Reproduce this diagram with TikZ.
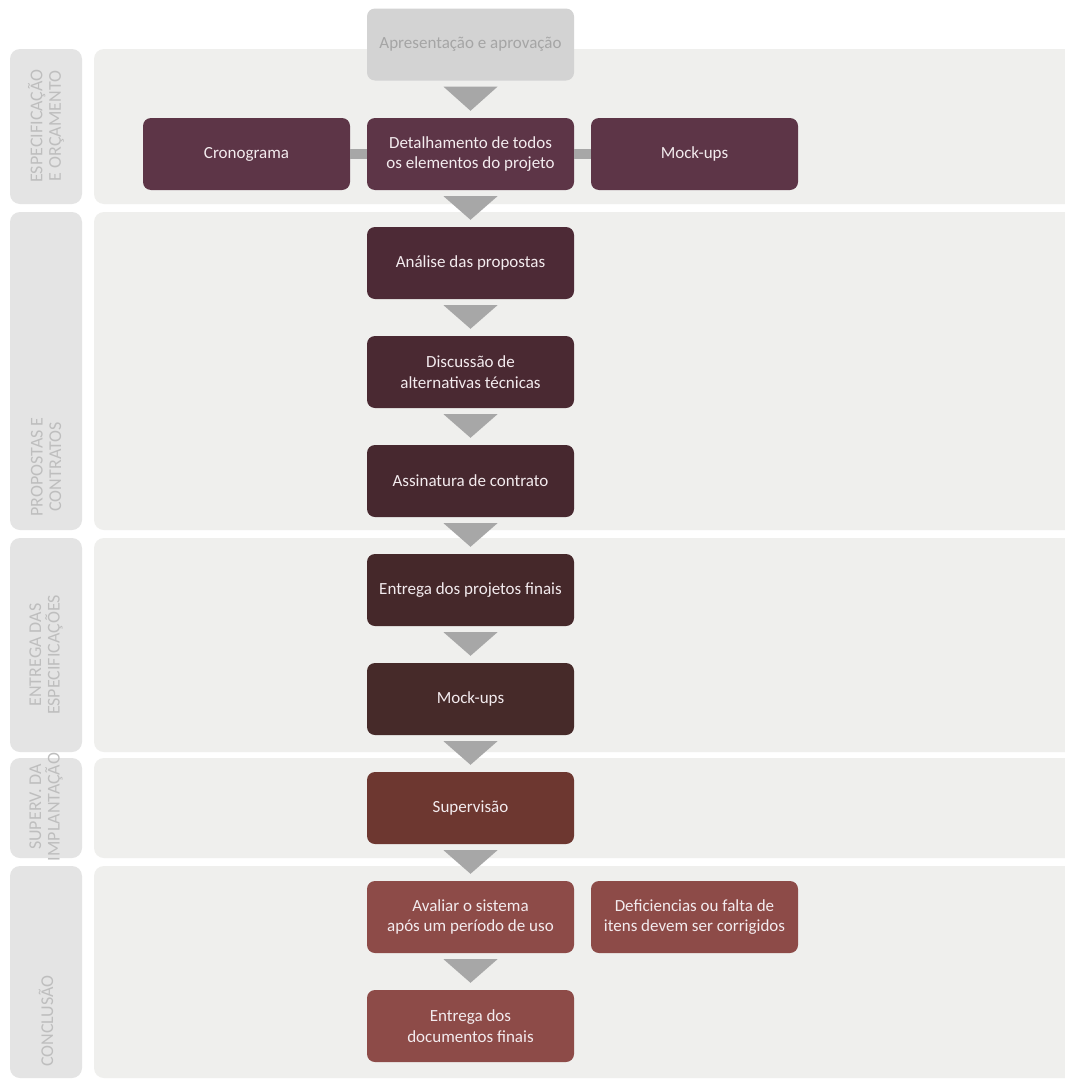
\documentclass[tikz,border=0pt]{standalone}
\usepackage{fontspec}
\setmainfont{Carlito}
\usepackage{tikz}
\usetikzlibrary{calc}
\definecolor{bandGrey}{HTML}{EFEFED}
\definecolor{tabGrey}{HTML}{E4E4E4}
\definecolor{tabText}{HTML}{BEBEBE}
\definecolor{arrowGrey}{HTML}{A7A7A7}
\definecolor{topGrey}{HTML}{D3D3D3}
\definecolor{topText}{HTML}{A5A5A5}
\definecolor{boxText}{HTML}{F3EBEE}
\definecolor{plumSpec}{HTML}{5D3547}
\definecolor{plumProp}{HTML}{4D2A36}
\definecolor{plumProp2}{HTML}{4A2932}
\definecolor{plumProp3}{HTML}{47282F}
\definecolor{brownEntr}{HTML}{45282A}
\definecolor{brownEntr2}{HTML}{462A29}
\definecolor{rustSup}{HTML}{6D3730}
\definecolor{roseConc}{HTML}{8D4B48}

\begin{document}
\begin{tikzpicture}[x=1pt, y=-1pt,
    stepbox/.style={rounded corners=8pt, minimum width=207pt, minimum height=72pt, inner sep=0pt,
      align=center, text=boxText, font=\fontsize{17}{20.5}\selectfont},
    phasebg/.style={fill=bandGrey, rounded corners=10pt},
    phasetab/.style={fill=tabGrey, rounded corners=10pt},
    phaselbl/.style={rotate=90, align=center, text=tabText, font=\fontsize{18}{18.5}\selectfont},
    chevron/.style={fill=arrowGrey},
    link/.style={draw=arrowGrey, line width=10pt}]

  \useasboundingbox (0,0) rectangle (1065,1084);
  \fill[white] (0,0) rectangle (1065,1084);

  % phase bands
  \foreach \top/\bot in {49/204, 212/530, 538/752, 758/858, 866/1078} {
    \fill[phasetab] (10,\top) rectangle (82,\bot);
    \fill[phasebg] (94,\top) rectangle (1085,\bot);
  }

  \node[phaselbl] (lspec) at (46,126)  {ESPECIFICAÇÃO\\E ORÇAMENTO};
  \node[phaselbl] (lprop) at (46,467)  {PROPOSTAS E\\CONTRATOS};
  \node[phaselbl] (lentr) at (46,655)  {ENTREGA DAS\\ESPECIFICAÇÕES};
  \node[phaselbl] (lsup)  at (46,807)  {SUPERV. DA\\IMPLANTAÇÃO};
  \node[phaselbl] (lconc) at (46,1021) {CONCLUSÃO};

  % steps
  \node[stepbox, fill=topGrey, text=topText] (apres) at (470.5,44.5) {Apresentação e aprovação};
  \node[stepbox, fill=plumSpec]   (crono) at (246.5,154)  {Cronograma};
  \node[stepbox, fill=plumSpec]   (detal) at (470.5,154)  {Detalhamento de todos\\os elementos do projeto};
  \node[stepbox, fill=plumSpec]   (mock1) at (694.5,154)  {Mock-ups};
  \node[stepbox, fill=plumProp]   (anal)  at (470.5,263)  {Análise das propostas};
  \node[stepbox, fill=plumProp2]  (disc)  at (470.5,372)  {Discussão de\\alternativas técnicas};
  \node[stepbox, fill=plumProp3]  (assin) at (470.5,481)  {Assinatura de contrato};
  \node[stepbox, fill=brownEntr]  (entr)  at (470.5,590)  {Entrega dos projetos finais};
  \node[stepbox, fill=brownEntr2] (mock2) at (470.5,699)  {Mock-ups};
  \node[stepbox, fill=rustSup]    (superv) at (470.5,808) {Supervisão};
  \node[stepbox, fill=roseConc]   (aval)  at (470.5,917)  {Avaliar o sistema\\após um período de uso};
  \node[stepbox, fill=roseConc]   (defic) at (694.5,917)  {Deficiencias ou falta de\\itens devem ser corrigidos};
  \node[stepbox, fill=roseConc]   (docs)  at (470.5,1026) {Entrega dos\\documentos finais};

  \draw[link] (crono) -- (detal);
  \draw[link] (detal) -- (mock1);

  \foreach \a/\b in {apres/detal,detal/anal,anal/disc,disc/assin,assin/entr,entr/mock2,mock2/superv,superv/aval,aval/docs} {
    \fill[chevron] ($(\a.south)+(-27,6)$) -- ($(\a.south)+(27,6)$) -- ($(\b.north)+(0,-7)$) -- cycle;
  }
\end{tikzpicture}
\end{document}
